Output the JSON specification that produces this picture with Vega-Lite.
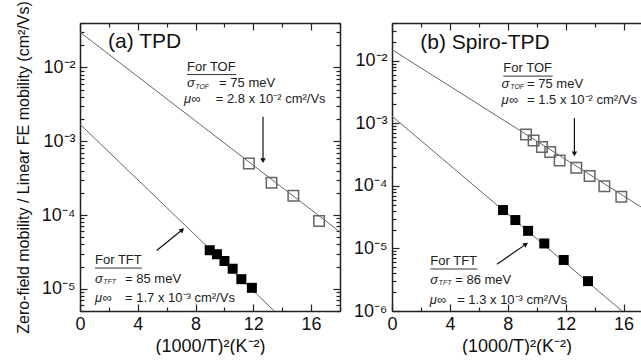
{
  "$schema": "https://vega.github.io/schema/vega-lite/v6.json",
  "padding": {"left": 15, "top": 0, "right": 0, "bottom": 0},
  "background": "white",
  "spacing": 52,
  "bounds": "flush",
  "config": {
    "view": {"stroke": null},
    "font": "Liberation Sans",
    "axis": {"grid": false, "labelFont": "Liberation Sans", "titleFont": "Liberation Sans", "labelColor": "#111", "titleColor": "#111", "titleFontWeight": "normal", "domainColor": "#222", "tickColor": "#222", "domainWidth": 1.5, "tickWidth": 1.2, "labelOverlap": false, "labelFlush": false, "labelBound": false}
  },
  "datasets": {
    "a_lines": [{"s": "TOF", "x": 0, "y": 0.03}, {"s": "TOF", "x": 18, "y": 5.9e-5}, {"s": "TFT", "x": 0, "y": 0.0017}, {"s": "TFT", "x": 13.45, "y": 5e-6}],
    "a_tof": [{"x": 11.69, "y": 5.0e-4}, {"x": 13.26, "y": 2.73e-4}, {"x": 14.77, "y": 1.82e-4}, {"x": 16.55, "y": 8.3e-5}],
    "a_tft": [{"x": 8.98, "y": 3.33e-5}, {"x": 9.48, "y": 2.94e-5}, {"x": 10.0, "y": 2.38e-5}, {"x": 10.57, "y": 1.87e-5}, {"x": 11.17, "y": 1.35e-5}, {"x": 11.9, "y": 1.03e-5}],
    "a_notes": [
      {"role": "head", "x": 1.94, "y": 0.0223, "t": "(a) TPD"},
      {"role": "txt", "x": 7.41, "y": 0.0102, "t": "For TOF"},
      {"role": "greek", "x": 7.41, "y": 0.0061, "t": "σ"},
      {"role": "sub", "x": 7.98, "y": 0.0054, "t": "TOF"},
      {"role": "txt", "x": 9.63, "y": 0.0062, "t": "= 75 meV"},
      {"role": "greek", "x": 7.2, "y": 0.00376, "t": "μ∞"},
      {"role": "txt", "x": 9.4, "y": 0.00376, "t": "= 2.8 x 10⁻² cm²/Vs"},
      {"role": "txt", "x": 1.04, "y": 2.46e-5, "t": "For TFT"},
      {"role": "greek", "x": 1.04, "y": 1.36e-5, "t": "σ"},
      {"role": "sub", "x": 1.61, "y": 1.24e-5, "t": "TFT"},
      {"role": "txt", "x": 3.12, "y": 1.36e-5, "t": "= 85 meV"},
      {"role": "greek", "x": 1.04, "y": 7.5e-6, "t": "μ∞"},
      {"role": "txt", "x": 3.12, "y": 7.5e-6, "t": "= 1.7 x 10⁻³ cm²/Vs"}
    ],
    "a_ul": [{"x": 7.41, "x2": 10.81, "y": 0.008}, {"x": 1.04, "x2": 4.29, "y": 1.91e-5}],
    "a_arr": [{"k": "v", "x": 12.67, "y": 0.00214, "x2": 12.67, "y2": 5.6e-4}, {"k": "d", "x": 5.31, "y": 3.3e-5, "x2": 7.04, "y2": 6.2e-5}],
    "b_lines": [{"s": "TOF", "x": 0, "y": 0.015}, {"s": "TOF", "x": 17.2, "y": 4.6e-5}, {"s": "TFT", "x": 0, "y": 0.0013}, {"s": "TFT", "x": 15.89, "y": 1e-6}],
    "b_tof": [{"x": 9.26, "y": 6.64e-4}, {"x": 9.78, "y": 5.32e-4}, {"x": 10.36, "y": 4.17e-4}, {"x": 10.93, "y": 3.46e-4}, {"x": 11.58, "y": 2.54e-4}, {"x": 12.73, "y": 1.94e-4}, {"x": 13.65, "y": 1.43e-4}, {"x": 14.67, "y": 9.85e-5}, {"x": 15.84, "y": 6.71e-5}],
    "b_tft": [{"x": 7.67, "y": 4.1e-5}, {"x": 8.52, "y": 2.84e-5}, {"x": 9.4, "y": 1.91e-5}, {"x": 10.52, "y": 1.2e-5}, {"x": 11.86, "y": 6.54e-6}, {"x": 13.54, "y": 3.0e-6}],
    "b_notes": [
      {"role": "head", "x": 1.95, "y": 0.0191, "t": "(b) Spiro-TPD"},
      {"role": "txt", "x": 7.69, "y": 0.00762, "t": "For TOF"},
      {"role": "greek", "x": 7.57, "y": 0.00427, "t": "σ"},
      {"role": "sub", "x": 8.17, "y": 0.0038, "t": "TOF"},
      {"role": "txt", "x": 9.33, "y": 0.00427, "t": "= 75 meV"},
      {"role": "greek", "x": 7.57, "y": 0.00237, "t": "μ∞"},
      {"role": "txt", "x": 9.33, "y": 0.00237, "t": "= 1.5 x 10⁻² cm²/Vs"},
      {"role": "txt", "x": 2.65, "y": 6.3e-6, "t": "For TFT"},
      {"role": "greek", "x": 2.65, "y": 3.13e-6, "t": "σ"},
      {"role": "sub", "x": 3.22, "y": 2.8e-6, "t": "TFT"},
      {"role": "txt", "x": 4.37, "y": 3.13e-6, "t": "= 86 meV"},
      {"role": "greek", "x": 2.6, "y": 1.5e-6, "t": "μ∞"},
      {"role": "txt", "x": 4.5, "y": 1.5e-6, "t": "= 1.3 x 10⁻³ cm²/Vs"}
    ],
    "b_ul": [{"x": 7.69, "x2": 11.1, "y": 0.00567}, {"x": 2.65, "x2": 5.9, "y": 4.69e-6}],
    "b_arr": [{"k": "v", "x": 12.6, "y": 0.00121, "x2": 12.6, "y2": 3.34e-4}, {"k": "d", "x": 7.25, "y": 5.6e-6, "x2": 9.21, "y2": 1.15e-5}]
  },
  "hconcat": [
    {
      "width": 260,
      "height": 288,
      "resolve": {"axis": {"x": "independent", "y": "independent"}},
      "layer": [
        {
          "data": {"name": "a_lines"},
          "mark": {"type": "line", "color": "#666", "strokeWidth": 1, "clip": true},
          "encoding": {
            "x": {"field": "x", "type": "quantitative", "scale": {"domain": [0, 18], "nice": false, "zero": false},
              "axis": {"orient": "bottom", "values": [0, 4, 8, 12, 16], "tickSize": -7, "labelPadding": 11, "labelFontSize": 18, "title": "(1000/T)²(K⁻²)", "titleFontSize": 18, "titlePadding": 4}},
            "y": {"field": "y", "type": "quantitative", "scale": {"type": "log", "domain": [5e-6, 0.04], "nice": false},
              "axis": {"orient": "left", "values": [1e-5, 1e-4, 1e-3, 1e-2],
                "labelExpr": "abs(log(datum.value)/LN10 + 2) < 0.01 ? '10⁻²' : abs(log(datum.value)/LN10 + 3) < 0.01 ? '10⁻³' : abs(log(datum.value)/LN10 + 4) < 0.01 ? '10⁻⁴' : abs(log(datum.value)/LN10 + 5) < 0.01 ? '10⁻⁵' : abs(log(datum.value)/LN10 + 6) < 0.01 ? '10⁻⁶' : ''",
                "tickSize": -7, "labelPadding": 12, "labelFontSize": 18, "title": "Zero-field mobility / Linear FE mobility (cm²/Vs)", "titleFontSize": 16, "titlePadding": 10}},
            "detail": {"field": "s"}
          }
        },
        {
          "data": {"name": "a_tof"},
          "mark": {"type": "point", "shape": "square", "filled": false, "stroke": "#666", "strokeWidth": 1.5, "size": 110, "opacity": 1},
          "encoding": {
            "x": {"field": "x", "type": "quantitative", "scale": {"domain": [0, 18], "nice": false, "zero": false},
              "axis": {"orient": "top", "values": [0, 4, 8, 12, 16], "labels": false, "tickSize": -7, "title": null}},
            "y": {"field": "y", "type": "quantitative", "scale": {"type": "log", "domain": [5e-6, 0.04], "nice": false},
              "axis": {"orient": "right", "values": [1e-5, 1e-4, 1e-3, 1e-2], "labels": false, "title": null, "tickSize": -7}}
          }
        },
        {
          "data": {"name": "a_tft"},
          "mark": {"type": "point", "shape": "square", "filled": true, "color": "#000", "size": 100, "opacity": 1},
          "encoding": {
            "x": {"field": "x", "type": "quantitative", "scale": {"domain": [0, 18], "nice": false, "zero": false},
              "axis": {"orient": "bottom", "values": [2, 6, 10, 14, 18], "labels": false, "tickSize": -4, "title": null, "domain": false}},
            "y": {"field": "y", "type": "quantitative", "scale": {"type": "log", "domain": [5e-6, 0.04], "nice": false},
              "axis": {"orient": "left", "values": [5e-6, 6e-6, 7e-6, 8e-6, 9e-6, 2e-5, 3e-5, 4e-5, 5e-5, 6e-5, 7e-5, 8e-5, 9e-5, 2e-4, 3e-4, 4e-4, 5e-4, 6e-4, 7e-4, 8e-4, 9e-4, 2e-3, 3e-3, 4e-3, 5e-3, 6e-3, 7e-3, 8e-3, 9e-3, 2e-2, 3e-2, 4e-2], "labels": false, "title": null, "tickSize": -4, "domain": false}}
          }
        },
        {
          "data": {"name": "a_ul"},
          "mark": {"type": "rule", "color": "#333", "strokeWidth": 1},
          "encoding": {
            "x": {"field": "x", "type": "quantitative", "scale": {"domain": [0, 18], "nice": false, "zero": false},
              "axis": {"orient": "top", "values": [2, 6, 10, 14, 18], "labels": false, "tickSize": -4, "title": null, "domain": false}},
            "x2": {"field": "x2"},
            "y": {"field": "y", "type": "quantitative", "scale": {"type": "log", "domain": [5e-6, 0.04], "nice": false},
              "axis": {"orient": "right", "values": [5e-6, 6e-6, 7e-6, 8e-6, 9e-6, 2e-5, 3e-5, 4e-5, 5e-5, 6e-5, 7e-5, 8e-5, 9e-5, 2e-4, 3e-4, 4e-4, 5e-4, 6e-4, 7e-4, 8e-4, 9e-4, 2e-3, 3e-3, 4e-3, 5e-3, 6e-3, 7e-3, 8e-3, 9e-3, 2e-2, 3e-2, 4e-2], "labels": false, "title": null, "tickSize": -4, "domain": false}}
          }
        },
        {
          "data": {"name": "a_arr"},
          "mark": {"type": "rule", "color": "#111", "strokeWidth": 1.2},
          "encoding": {
            "x": {"field": "x", "type": "quantitative", "axis": null},
            "x2": {"field": "x2"},
            "y": {"field": "y", "type": "quantitative", "axis": null},
            "y2": {"field": "y2"}
          }
        },
        {
          "data": {"name": "a_arr"},
          "mark": {"type": "point", "shape": "triangle", "filled": true, "color": "#111", "size": 30, "opacity": 1},
          "encoding": {
            "x": {"field": "x2", "type": "quantitative", "axis": null},
            "y": {"field": "y2", "type": "quantitative", "axis": null},
            "angle": {"condition": {"test": "datum.k == 'v'", "value": 180}, "value": 52}
          }
        },
        {
          "data": {"name": "a_notes"},
          "transform": [{"filter": "datum.role == 'head'"}],
          "mark": {"type": "text", "align": "left", "baseline": "middle", "fontSize": 21, "color": "#111"},
          "encoding": {
            "x": {"field": "x", "type": "quantitative", "axis": null},
            "y": {"field": "y", "type": "quantitative", "axis": null},
            "text": {"field": "t"}
          }
        },
        {
          "data": {"name": "a_notes"},
          "transform": [{"filter": "datum.role == 'txt'"}],
          "mark": {"type": "text", "align": "left", "baseline": "middle", "fontSize": 13, "color": "#222"},
          "encoding": {
            "x": {"field": "x", "type": "quantitative", "axis": null},
            "y": {"field": "y", "type": "quantitative", "axis": null},
            "text": {"field": "t"}
          }
        },
        {
          "data": {"name": "a_notes"},
          "transform": [{"filter": "datum.role == 'greek'"}],
          "mark": {"type": "text", "align": "left", "baseline": "middle", "fontSize": 13, "fontStyle": "italic", "color": "#222"},
          "encoding": {
            "x": {"field": "x", "type": "quantitative", "axis": null},
            "y": {"field": "y", "type": "quantitative", "axis": null},
            "text": {"field": "t"}
          }
        },
        {
          "data": {"name": "a_notes"},
          "transform": [{"filter": "datum.role == 'sub'"}],
          "mark": {"type": "text", "align": "left", "baseline": "middle", "fontSize": 7, "fontStyle": "italic", "color": "#222"},
          "encoding": {
            "x": {"field": "x", "type": "quantitative", "axis": null},
            "y": {"field": "y", "type": "quantitative", "axis": null},
            "text": {"field": "t"}
          }
        }
      ]
    },
    {
      "width": 249,
      "height": 288,
      "resolve": {"axis": {"x": "independent", "y": "independent"}},
      "layer": [
        {
          "data": {"name": "b_lines"},
          "mark": {"type": "line", "color": "#666", "strokeWidth": 1, "clip": true},
          "encoding": {
            "x": {"field": "x", "type": "quantitative", "scale": {"domain": [0, 17.2], "nice": false, "zero": false},
              "axis": {"orient": "bottom", "values": [0, 4, 8, 12, 16], "tickSize": -7, "labelPadding": 11, "labelFontSize": 18, "title": "(1000/T)²(K⁻²)", "titleFontSize": 18, "titlePadding": 4}},
            "y": {"field": "y", "type": "quantitative", "scale": {"type": "log", "domain": [1e-6, 0.04], "nice": false},
              "axis": {"orient": "left", "values": [1e-6, 1e-5, 1e-4, 1e-3, 1e-2],
                "labelExpr": "abs(log(datum.value)/LN10 + 2) < 0.01 ? '10⁻²' : abs(log(datum.value)/LN10 + 3) < 0.01 ? '10⁻³' : abs(log(datum.value)/LN10 + 4) < 0.01 ? '10⁻⁴' : abs(log(datum.value)/LN10 + 5) < 0.01 ? '10⁻⁵' : abs(log(datum.value)/LN10 + 6) < 0.01 ? '10⁻⁶' : ''",
                "tickSize": -7, "labelPadding": 12, "labelFontSize": 18, "title": null}},
            "detail": {"field": "s"}
          }
        },
        {
          "data": {"name": "b_tof"},
          "mark": {"type": "point", "shape": "square", "filled": false, "stroke": "#666", "strokeWidth": 1.5, "size": 110, "opacity": 1},
          "encoding": {
            "x": {"field": "x", "type": "quantitative", "scale": {"domain": [0, 17.2], "nice": false, "zero": false},
              "axis": {"orient": "top", "values": [0, 4, 8, 12, 16], "labels": false, "tickSize": -7, "title": null}},
            "y": {"field": "y", "type": "quantitative", "scale": {"type": "log", "domain": [1e-6, 0.04], "nice": false}, "axis": null}
          }
        },
        {
          "data": {"name": "b_tft"},
          "mark": {"type": "point", "shape": "square", "filled": true, "color": "#000", "size": 100, "opacity": 1},
          "encoding": {
            "x": {"field": "x", "type": "quantitative", "scale": {"domain": [0, 17.2], "nice": false, "zero": false},
              "axis": {"orient": "bottom", "values": [2, 6, 10, 14], "labels": false, "tickSize": -4, "title": null, "domain": false}},
            "y": {"field": "y", "type": "quantitative", "scale": {"type": "log", "domain": [1e-6, 0.04], "nice": false},
              "axis": {"orient": "left", "values": [2e-6, 3e-6, 4e-6, 5e-6, 6e-6, 7e-6, 8e-6, 9e-6, 2e-5, 3e-5, 4e-5, 5e-5, 6e-5, 7e-5, 8e-5, 9e-5, 2e-4, 3e-4, 4e-4, 5e-4, 6e-4, 7e-4, 8e-4, 9e-4, 2e-3, 3e-3, 4e-3, 5e-3, 6e-3, 7e-3, 8e-3, 9e-3, 2e-2, 3e-2, 4e-2], "labels": false, "title": null, "tickSize": -4, "domain": false}}
          }
        },
        {
          "data": {"name": "b_ul"},
          "mark": {"type": "rule", "color": "#333", "strokeWidth": 1},
          "encoding": {
            "x": {"field": "x", "type": "quantitative", "scale": {"domain": [0, 17.2], "nice": false, "zero": false},
              "axis": {"orient": "top", "values": [2, 6, 10, 14], "labels": false, "tickSize": -4, "title": null, "domain": false}},
            "x2": {"field": "x2"},
            "y": {"field": "y", "type": "quantitative", "axis": null}
          }
        },
        {
          "data": {"name": "b_arr"},
          "mark": {"type": "rule", "color": "#111", "strokeWidth": 1.2},
          "encoding": {
            "x": {"field": "x", "type": "quantitative", "axis": null},
            "x2": {"field": "x2"},
            "y": {"field": "y", "type": "quantitative", "axis": null},
            "y2": {"field": "y2"}
          }
        },
        {
          "data": {"name": "b_arr"},
          "mark": {"type": "point", "shape": "triangle", "filled": true, "color": "#111", "size": 30, "opacity": 1},
          "encoding": {
            "x": {"field": "x2", "type": "quantitative", "axis": null},
            "y": {"field": "y2", "type": "quantitative", "axis": null},
            "angle": {"condition": {"test": "datum.k == 'v'", "value": 180}, "value": 56}
          }
        },
        {
          "data": {"name": "b_notes"},
          "transform": [{"filter": "datum.role == 'head'"}],
          "mark": {"type": "text", "align": "left", "baseline": "middle", "fontSize": 21, "color": "#111", "clip": true},
          "encoding": {
            "x": {"field": "x", "type": "quantitative", "axis": null},
            "y": {"field": "y", "type": "quantitative", "axis": null},
            "text": {"field": "t"}
          }
        },
        {
          "data": {"name": "b_notes"},
          "transform": [{"filter": "datum.role == 'txt'"}],
          "mark": {"type": "text", "align": "left", "baseline": "middle", "fontSize": 13, "color": "#222", "clip": true},
          "encoding": {
            "x": {"field": "x", "type": "quantitative", "axis": null},
            "y": {"field": "y", "type": "quantitative", "axis": null},
            "text": {"field": "t"}
          }
        },
        {
          "data": {"name": "b_notes"},
          "transform": [{"filter": "datum.role == 'greek'"}],
          "mark": {"type": "text", "align": "left", "baseline": "middle", "fontSize": 13, "fontStyle": "italic", "color": "#222"},
          "encoding": {
            "x": {"field": "x", "type": "quantitative", "axis": null},
            "y": {"field": "y", "type": "quantitative", "axis": null},
            "text": {"field": "t"}
          }
        },
        {
          "data": {"name": "b_notes"},
          "transform": [{"filter": "datum.role == 'sub'"}],
          "mark": {"type": "text", "align": "left", "baseline": "middle", "fontSize": 7, "fontStyle": "italic", "color": "#222"},
          "encoding": {
            "x": {"field": "x", "type": "quantitative", "axis": null},
            "y": {"field": "y", "type": "quantitative", "axis": null},
            "text": {"field": "t"}
          }
        }
      ]
    }
  ]
}
